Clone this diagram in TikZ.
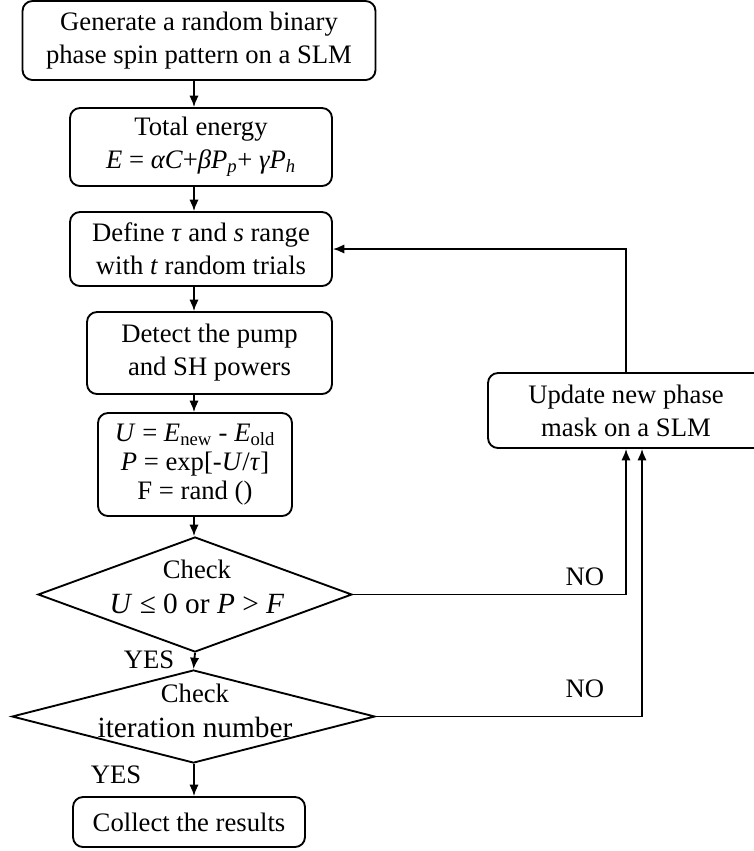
\documentclass[tikz,border=0pt]{standalone}
\usepackage{fontspec}
\setmainfont{Liberation Serif}
\usetikzlibrary{shapes, arrows.meta}

\begin{document}
\begin{tikzpicture}[x=0.75pt, y=-0.75pt, font=\fontsize{20}{24.75}\selectfont,
  box/.style={draw, line width=1.4pt, rounded corners=7.5pt, align=center, inner sep=0pt},
  decision/.style={draw, line width=1.4pt, diamond, inner sep=0pt},
  arr/.style={line width=1.4pt, -{Latex[length=8.5pt, width=7pt]}},
  tag/.style={inner sep=0pt}]
  \useasboundingbox (0,0) rectangle (754,851);
  \coordinate (axis) at (194,0);
  \node[box, minimum width=264.75pt, minimum height=59.25pt] (gen) at (199,40.5) {Generate a random binary\\phase spin pattern on a SLM};
  \node[box, minimum width=196.5pt, minimum height=58.5pt] (energy) at (201,147) {Total energy\\\textit{E} = \textit{αC}+\textit{βP}\textsubscript{\textit{p}}+ \textit{γP}\textsubscript{\textit{h}}};
  \node[box, minimum width=196.5pt, minimum height=55.5pt] (define) at (201,249) {Define \textit{τ} and \textit{s} range\\with \textit{t} random trials};
  \node[box, minimum width=183.75pt, minimum height=61.5pt] (detect) at (209.5,353) {Detect the pump\\and SH powers};
  \node[box, minimum width=145.5pt, minimum height=77.25pt, font=\fontsize{20}{21.75}\selectfont] (calc) at (195,464.5) {\textit{U} = \textit{E}\textsubscript{new} - \textit{E}\textsubscript{old}\\\textit{P} = exp[-\textit{U}/\textit{τ}]\\F = rand ()};
  \node[decision, minimum width=235.5pt, minimum height=86.25pt] (check1) at (195,594.5) {};
  \node[tag, align=center, font=\fontsize{20}{26}\selectfont] (txt1) at (197,587) {Check\\{\fontsize{22}{26}\selectfont\textit{U} ≤ 0 or \textit{P} > \textit{F}}};
  \node[decision, minimum width=272.25pt, minimum height=69.75pt] (check2) at (193.5,716.5) {};
  \node[tag, align=center, font=\fontsize{20}{26}\selectfont] (txt2) at (195,711) {Check\\{\fontsize{22}{26}\selectfont iteration number}};
  \node[box, minimum width=174pt, minimum height=37.5pt] (collect) at (189,822) {Collect the results};
  \node[box, minimum width=207pt, minimum height=56.25pt] (update) at (626,410.5) {Update new phase\\mask on a SLM};
  \coordinate (up2) at ([xshift=12pt]update.south);

  % main line
  \draw[arr] (gen.south -| axis) -- (energy.north -| axis);
  \draw[arr] (energy.south -| axis) -- (define.north -| axis);
  \draw[arr] (define.south -| axis) -- (detect.north -| axis);
  \draw[arr] (detect.south -| axis) -- (calc.north -| axis);
  \draw[arr] (calc.south -| axis) -- (check1.north -| axis);
  \draw[arr] (check1.south) -- (check2.north);
  \draw[arr] (check2.south -| axis) -- (collect.north -| axis);

  % loops
  \draw[arr] (check1.east) -- (check1.east -| update.south) -- (update.south);
  \draw[arr] (check2.east) -- (check2.east -| up2) -- (up2);
  \draw[arr] (update.north) -- (update.north |- define.east) -- (define.east);

  \node[tag] (no1) at (585,577) {NO};
  \node[tag] (no2) at (585,689) {NO};
  \node[tag] (yes1) at (149,660) {YES};
  \node[tag] (yes2) at (116,775) {YES};
\end{tikzpicture}
\end{document}
